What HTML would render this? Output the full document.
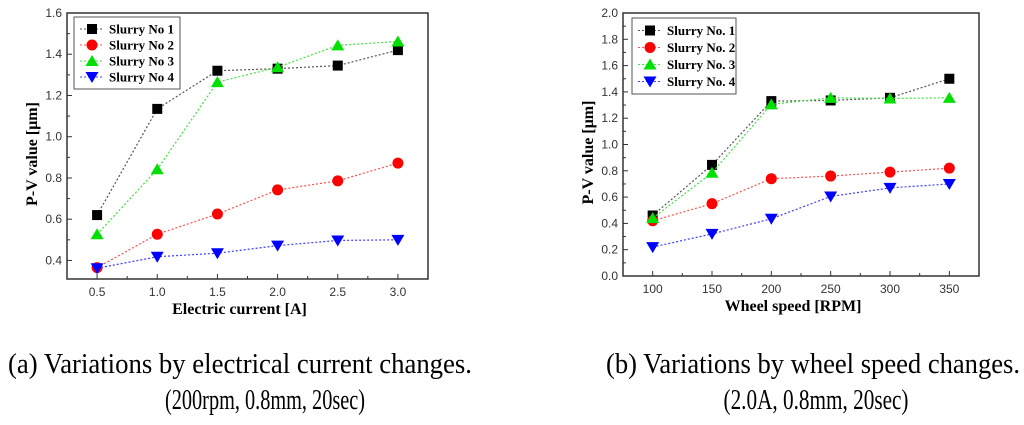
<!DOCTYPE html>
<html><head><meta charset="utf-8"><style>
html,body{margin:0;padding:0;background:#fff;}
svg{display:block;font-family:"Liberation Sans",sans-serif;}
.tick{font-size:12px;fill:#333;}
.ttl{font-family:"Liberation Serif",serif;font-weight:bold;font-size:16px;}
.leg{font-family:"Liberation Serif",serif;font-weight:bold;font-size:13px;}
.cap{font-family:"Liberation Serif",serif;font-size:28px;}
</style></head><body>
<svg id="s" width="1024" height="425" viewBox="0 0 1024 425">
<text class="cap" x="240" y="373" text-anchor="middle" textLength="464" lengthAdjust="spacingAndGlyphs">(a) Variations by electrical current changes.</text>
<text class="cap" x="265" y="409" text-anchor="middle" textLength="200" lengthAdjust="spacingAndGlyphs">(200rpm, 0.8mm, 20sec)</text>
<text class="cap" x="813" y="373" text-anchor="middle" textLength="414" lengthAdjust="spacingAndGlyphs">(b) Variations by wheel speed changes.</text>
<text class="cap" x="816" y="409" text-anchor="middle" textLength="185" lengthAdjust="spacingAndGlyphs">(2.0A, 0.8mm, 20sec)</text>
</svg>
<script>
const catsA=[0.5,1.0,1.5,2.0,2.5,3.0];
const a1=[0.62,1.135,1.32,1.33,1.345,1.42];
const a2=[0.365,0.527,0.625,0.742,0.786,0.872];
const a3=[0.527,0.842,1.265,1.337,1.443,1.462];
const a4=[0.362,0.418,0.435,0.472,0.497,0.5];
const yTicksA=[0.4,0.6,0.8,1.0,1.2,1.4,1.6];
const xTicksA=[0.5,1.0,1.5,2.0,2.5,3.0];
const namesA=["Slurry No 1","Slurry No 2","Slurry No 3","Slurry No 4"];
const catsB=[100,150,200,250,300,350];
const b1=[0.46,0.845,1.33,1.335,1.355,1.5];
const b2=[0.42,0.55,0.74,0.76,0.79,0.82];
const b3=[0.44,0.785,1.305,1.355,1.35,1.355];
const b4=[0.22,0.32,0.435,0.605,0.67,0.70];
const yTicksB=[0.0,0.2,0.4,0.6,0.8,1.0,1.2,1.4,1.6,1.8,2.0];
const xTicksB=[100,150,200,250,300,350];
const namesB=["Slurry No. 1","Slurry No. 2","Slurry No. 3","Slurry No. 4"];

const NS="http://www.w3.org/2000/svg";
const svg=document.getElementById('s');
function mk(tag,attrs,parent){const e=document.createElementNS(NS,tag);for(const k in attrs)e.setAttribute(k,attrs[k]);(parent||svg).appendChild(e);return e;}
const colors=["#000","#ff0000","#00e000","#0000ff"];
const lineCol=["#555","#ff5050","#40e040","#4040ff"];
function marker(g,k,x,y){
  if(k===0)return mk('rect',{x:x-5,y:y-5,width:10,height:10,fill:colors[0]},g);
  if(k===1)return mk('circle',{cx:x,cy:y,r:5.5,fill:colors[1]},g);
  if(k===2)return mk('polygon',{points:`${x},${y-6} ${x+6.5},${y+5} ${x-6.5},${y+5}`,fill:colors[2]},g);
  return mk('polygon',{points:`${x},${y+6} ${x+6.5},${y-5} ${x-6.5},${y-5}`,fill:colors[3]},g);
}
function chart(o){
  const g=mk('g',{});
  
  
  const X=v=>o.L+(v-o.x0)/(o.x1-o.x0)*(o.R-o.L);
  const Y=v=>o.B-(v-o.y0)/(o.y1-o.y0)*(o.B-o.T);
  const box=mk('rect',{x:o.L,y:o.T,width:o.R-o.L,height:o.B-o.T,fill:'none',stroke:'#333','stroke-width':1.5},g);
  
  
  o.yt.forEach((v,i)=>{
    mk('line',{x1:o.L,x2:o.L+5,y1:Y(v),y2:Y(v),stroke:'#333'},g);
    if(i<o.yt.length-1){const m=(v+o.yt[i+1])/2;mk('line',{x1:o.L,x2:o.L+3,y1:Y(m),y2:Y(m),stroke:'#333'},g);}
    const t=mk('text',{x:o.L-5,y:Y(v)+4,'text-anchor':'end',class:'tick'},g);t.textContent=v.toFixed(1);
    
    
  });
  o.xt.forEach((v,i)=>{
    mk('line',{x1:X(v),x2:X(v),y1:o.B,y2:o.B-5,stroke:'#333'},g);
    if(i<o.xt.length-1){const m=(v+o.xt[i+1])/2;mk('line',{x1:X(m),x2:X(m),y1:o.B,y2:o.B-3,stroke:'#333'},g);}
    const t=mk('text',{x:X(v),y:o.B+17,'text-anchor':'middle',class:'tick'},g);t.textContent=o.xfmt(v);
    
    
  });
  const xt=mk('text',{x:(o.L+o.R)/2-8,y:o.B+35,'text-anchor':'middle',class:'ttl'},g);xt.textContent=o.xlabel;
  
  
  const yt=mk('text',{x:0,y:0,'text-anchor':'middle',class:'ttl',transform:`translate(${o.L-30},${(o.T+o.B)/2+8}) rotate(-90)`},g);yt.textContent="P-V value [μm]";
  
  
  o.series.forEach((s,k)=>{
    const pts=o.cats.map((c,i)=>X(c)+','+Y(s[i])).join(' ');
    const pl=mk('polyline',{points:pts,fill:'none',stroke:lineCol[k],'stroke-width':1.2,'stroke-dasharray':'2,2'},g);
    
    
    o.cats.forEach((c,i)=>{const m=marker(g,k,X(c),Y(s[i]));
      
      });
  });
  const lg=mk('g',{},g);
  
  
  mk('rect',{x:o.lx,y:o.ly,width:o.lw,height:o.lh,fill:'#fff',stroke:'#555','stroke-width':1},lg);
  const step=(o.lh-8)/4;
  o.names.forEach((n,k)=>{
    const yy=o.ly+4+step*(k+0.5);
    mk('line',{x1:o.lx+6,x2:o.lx+30,y1:yy,y2:yy,stroke:lineCol[k],'stroke-dasharray':'2,2'},lg);
    marker(lg,k,o.lx+18,yy);
    const t=mk('text',{x:o.lx+35,y:yy+4.5,class:'leg'},lg);t.textContent=n;
    
    
  });
}
chart({name:'chart-electric-current',L:67,R:428,T:13,B:279,x0:0.25,x1:3.25,y0:0.31,y1:1.6,
  cats:catsA,series:[a1,a2,a3,a4],yt:yTicksA,xt:xTicksA,xfmt:v=>v.toFixed(1),
  xlabel:'Electric current [A]',names:namesA,lx:74,ly:17,lw:106,lh:72});
chart({name:'chart-wheel-speed',L:623,R:979,T:13,B:276,x0:75,x1:375,y0:0,y1:2.0,
  cats:catsB,series:[b1,b2,b3,b4],yt:yTicksB,xt:xTicksB,xfmt:v=>String(v),
  xlabel:'Wheel speed [RPM]',names:namesB,lx:632,ly:18,lw:104,lh:76});
</script>
</body></html>
